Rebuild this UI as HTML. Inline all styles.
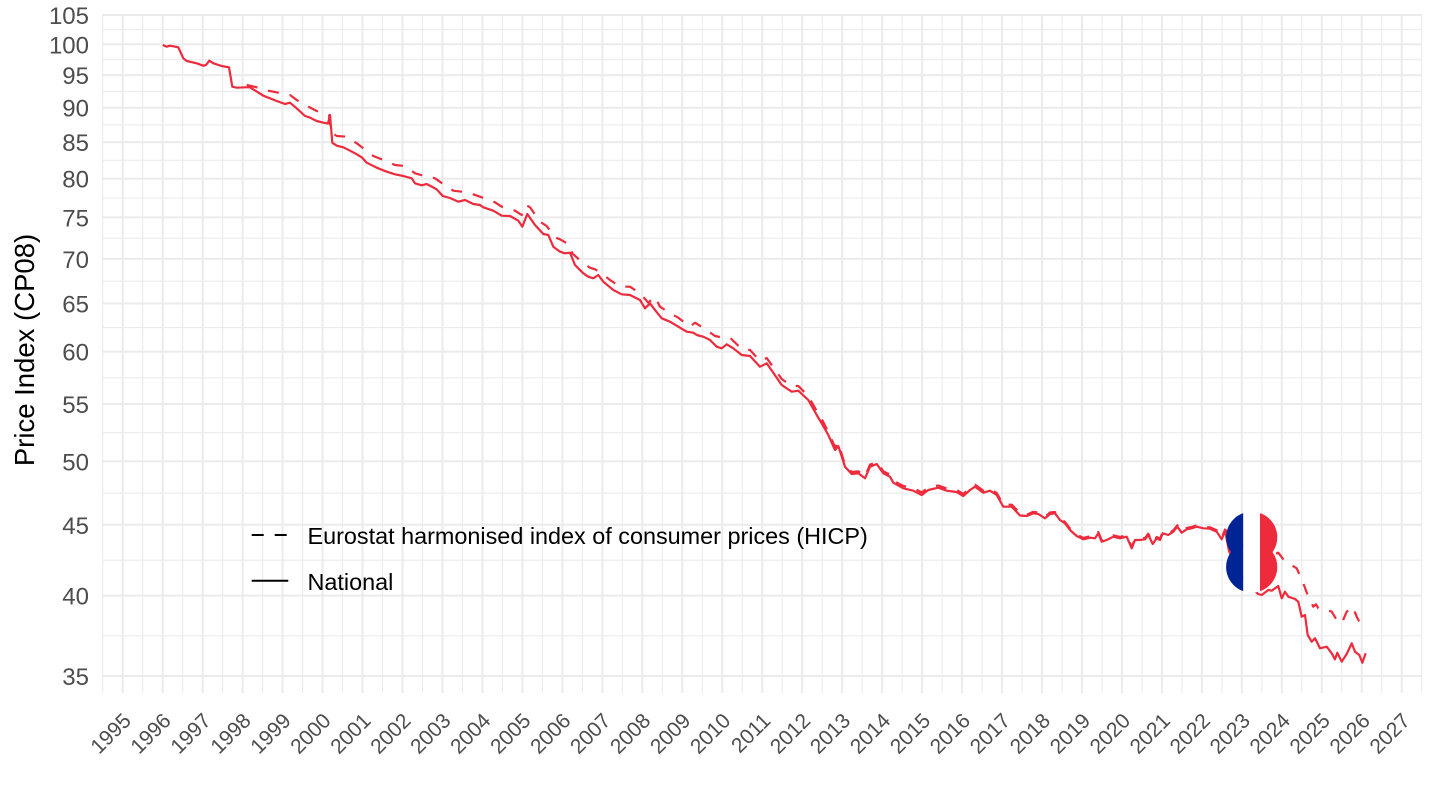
<!DOCTYPE html>
<html>
<head>
<meta charset="utf-8">
<style>
  html,body{margin:0;padding:0;background:#ffffff;}
  svg{display:block;}
  .yl{font-family:"Liberation Sans",Arial,sans-serif;font-size:24px;fill:#4D4D4D;text-anchor:end;}
  .xl{font-family:"Liberation Sans",Arial,sans-serif;font-size:21px;fill:#4D4D4D;text-anchor:end;}
  .lg{font-family:"Liberation Sans",Arial,sans-serif;font-size:23.4px;fill:#000000;}
  .ti{font-family:"Liberation Sans",Arial,sans-serif;font-size:27.5px;fill:#000000;text-anchor:middle;}
</style>
</head>
<body>
<svg width="1440" height="810" viewBox="0 0 1440 810" xmlns="http://www.w3.org/2000/svg">
<rect x="0" y="0" width="1440" height="810" fill="#ffffff"/>

<!-- minor horizontal grid -->
<g stroke="#EBEBEB" stroke-width="1.1">
<line x1="102.7" x2="1421.7" y1="29.62" y2="29.62"/>
<line x1="102.7" x2="1421.7" y1="59.73" y2="59.73"/>
<line x1="102.7" x2="1421.7" y1="91.43" y2="91.43"/>
<line x1="102.7" x2="1421.7" y1="124.89" y2="124.89"/>
<line x1="102.7" x2="1421.7" y1="160.33" y2="160.33"/>
<line x1="102.7" x2="1421.7" y1="197.99" y2="197.99"/>
<line x1="102.7" x2="1421.7" y1="238.16" y2="238.16"/>
<line x1="102.7" x2="1421.7" y1="281.2" y2="281.2"/>
<line x1="102.7" x2="1421.7" y1="327.59" y2="327.59"/>
<line x1="102.7" x2="1421.7" y1="377.85" y2="377.85"/>
<line x1="102.7" x2="1421.7" y1="432.7" y2="432.7"/>
<line x1="102.7" x2="1421.7" y1="493.07" y2="493.07"/>
<line x1="102.7" x2="1421.7" y1="560.2" y2="560.2"/>
<line x1="102.7" x2="1421.7" y1="635.8" y2="635.8"/>
</g>
<!-- minor vertical grid -->
<g stroke="#EBEBEB" stroke-width="1.1">
<line y1="14" y2="693" x1="102.7" x2="102.7"/>
<line y1="14" y2="693" x1="142.7" x2="142.7"/>
<line y1="14" y2="693" x1="182.65" x2="182.65"/>
<line y1="14" y2="693" x1="222.62" x2="222.62"/>
<line y1="14" y2="693" x1="262.6" x2="262.6"/>
<line y1="14" y2="693" x1="302.57" x2="302.57"/>
<line y1="14" y2="693" x1="342.54" x2="342.54"/>
<line y1="14" y2="693" x1="382.5" x2="382.5"/>
<line y1="14" y2="693" x1="422.48" x2="422.48"/>
<line y1="14" y2="693" x1="462.45" x2="462.45"/>
<line y1="14" y2="693" x1="502.42" x2="502.42"/>
<line y1="14" y2="693" x1="542.4" x2="542.4"/>
<line y1="14" y2="693" x1="582.36" x2="582.36"/>
<line y1="14" y2="693" x1="622.33" x2="622.33"/>
<line y1="14" y2="693" x1="662.3" x2="662.3"/>
<line y1="14" y2="693" x1="702.27" x2="702.27"/>
<line y1="14" y2="693" x1="742.24" x2="742.24"/>
<line y1="14" y2="693" x1="782.2" x2="782.2"/>
<line y1="14" y2="693" x1="822.18" x2="822.18"/>
<line y1="14" y2="693" x1="862.15" x2="862.15"/>
<line y1="14" y2="693" x1="902.12" x2="902.12"/>
<line y1="14" y2="693" x1="942.09" x2="942.09"/>
<line y1="14" y2="693" x1="982.06" x2="982.06"/>
<line y1="14" y2="693" x1="1022.03" x2="1022.03"/>
<line y1="14" y2="693" x1="1062" x2="1062"/>
<line y1="14" y2="693" x1="1101.97" x2="1101.97"/>
<line y1="14" y2="693" x1="1141.94" x2="1141.94"/>
<line y1="14" y2="693" x1="1181.9" x2="1181.9"/>
<line y1="14" y2="693" x1="1221.88" x2="1221.88"/>
<line y1="14" y2="693" x1="1261.85" x2="1261.85"/>
<line y1="14" y2="693" x1="1301.82" x2="1301.82"/>
<line y1="14" y2="693" x1="1341.79" x2="1341.79"/>
<line y1="14" y2="693" x1="1381.76" x2="1381.76"/>
<line y1="14" y2="693" x1="1421.7" x2="1421.7"/>
</g>
<!-- major horizontal grid -->
<g stroke="#EBEBEB" stroke-width="2">
<line x1="102.7" x2="1421.7" y1="14.94" y2="14.94"/>
<line x1="102.7" x2="1421.7" y1="44.3" y2="44.3"/>
<line x1="102.7" x2="1421.7" y1="75.16" y2="75.16"/>
<line x1="102.7" x2="1421.7" y1="107.69" y2="107.69"/>
<line x1="102.7" x2="1421.7" y1="142.09" y2="142.09"/>
<line x1="102.7" x2="1421.7" y1="178.57" y2="178.57"/>
<line x1="102.7" x2="1421.7" y1="217.4" y2="217.4"/>
<line x1="102.7" x2="1421.7" y1="258.91" y2="258.91"/>
<line x1="102.7" x2="1421.7" y1="303.5" y2="303.5"/>
<line x1="102.7" x2="1421.7" y1="351.67" y2="351.67"/>
<line x1="102.7" x2="1421.7" y1="404.02" y2="404.02"/>
<line x1="102.7" x2="1421.7" y1="461.37" y2="461.37"/>
<line x1="102.7" x2="1421.7" y1="524.76" y2="524.76"/>
<line x1="102.7" x2="1421.7" y1="595.63" y2="595.63"/>
<line x1="102.7" x2="1421.7" y1="675.98" y2="675.98"/>
</g>
<!-- major vertical grid -->
<g stroke="#EBEBEB" stroke-width="2">
<line y1="14" y2="693" x1="122.7" x2="122.7"/>
<line y1="14" y2="693" x1="162.67" x2="162.67"/>
<line y1="14" y2="693" x1="202.64" x2="202.64"/>
<line y1="14" y2="693" x1="242.61" x2="242.61"/>
<line y1="14" y2="693" x1="282.58" x2="282.58"/>
<line y1="14" y2="693" x1="322.55" x2="322.55"/>
<line y1="14" y2="693" x1="362.52" x2="362.52"/>
<line y1="14" y2="693" x1="402.49" x2="402.49"/>
<line y1="14" y2="693" x1="442.46" x2="442.46"/>
<line y1="14" y2="693" x1="482.43" x2="482.43"/>
<line y1="14" y2="693" x1="522.4" x2="522.4"/>
<line y1="14" y2="693" x1="562.37" x2="562.37"/>
<line y1="14" y2="693" x1="602.34" x2="602.34"/>
<line y1="14" y2="693" x1="642.31" x2="642.31"/>
<line y1="14" y2="693" x1="682.28" x2="682.28"/>
<line y1="14" y2="693" x1="722.25" x2="722.25"/>
<line y1="14" y2="693" x1="762.22" x2="762.22"/>
<line y1="14" y2="693" x1="802.19" x2="802.19"/>
<line y1="14" y2="693" x1="842.16" x2="842.16"/>
<line y1="14" y2="693" x1="882.13" x2="882.13"/>
<line y1="14" y2="693" x1="922.1" x2="922.1"/>
<line y1="14" y2="693" x1="962.07" x2="962.07"/>
<line y1="14" y2="693" x1="1002.04" x2="1002.04"/>
<line y1="14" y2="693" x1="1042.01" x2="1042.01"/>
<line y1="14" y2="693" x1="1081.98" x2="1081.98"/>
<line y1="14" y2="693" x1="1121.95" x2="1121.95"/>
<line y1="14" y2="693" x1="1161.92" x2="1161.92"/>
<line y1="14" y2="693" x1="1201.89" x2="1201.89"/>
<line y1="14" y2="693" x1="1241.86" x2="1241.86"/>
<line y1="14" y2="693" x1="1281.83" x2="1281.83"/>
<line y1="14" y2="693" x1="1321.8" x2="1321.8"/>
<line y1="14" y2="693" x1="1361.77" x2="1361.77"/>
<line y1="14" y2="693" x1="1401.74" x2="1401.74"/>
</g>

<!-- HICP dashed series -->
<polyline fill="none" stroke="#EE2B3C" stroke-width="2.2" stroke-dasharray="11 11" stroke-linejoin="round"
points="246.7,85 256.7,87.3 268.3,90.7 278.3,92.7 290,95 296.7,100 308.3,106.7 316.7,111 323,113 329,115 331,132 336.7,136 346.7,136.7 356.7,143.3 363.3,148.3 373.3,156 383.3,160 395,165 405,166 415,173.3 423.3,175.7 435,178.3 441.7,183 453.3,190.7 461.7,191.7 473.3,194.3 480,196.7 495,202.3 501.7,206.7 515,210.7 521.7,215 526,205 530,207.3 540,221.7 546.7,226 555,237.3 560,239.3 570,245 572.3,253.3 583.3,263.3 590,267.7 595,269.3 601.7,273.3 610,280 620,286.7 630,286.7 640,293.3 648.3,302.7 655,296.7 660,306.7 670,313.3 678.3,317.7 690,326.7 695,322.7 706.7,330 715,336 723.3,337.7 730,337.7 741.7,349 750,350 760,361 766.7,358 781.7,379 791.7,386 798.3,386 808.3,396 816.7,411 821.7,419 828.3,432 835,447 838.3,443 845,464.7 851.7,472 858.3,471.3 865,476.3 870,464.7 876.7,462 883.3,471.3 890,474.7 893.3,480.7 903.3,486 913.3,488 921.7,492.5 928.3,487.5 938.3,485.5 946.7,488.5 956.7,490 963.3,494 970,488 975,484.7 983.3,490.7 990,488.7 996.7,493 1003.3,504.7 1011.7,504.7 1020,513 1026.7,514.7 1033.3,511.8 1038.3,512.5 1045,517 1050,512.5 1055,512 1060,518.5 1065,522 1070,528.5 1076.7,534.5 1083.3,538 1090,536.3 1095,537 1098.3,532 1101.7,540.3 1106.7,538.7 1113.3,535.3 1120,537 1126.7,535.3 1131.7,547 1135,538.7 1140,538.7 1145,538 1148.3,533.7 1152.7,542.7 1156.7,537 1160,538.7 1162.7,532 1168.3,533.7 1173.3,530.3 1177.3,525.3 1181.7,531.3 1186.7,528 1191.7,527 1196.7,525.3 1203.3,527 1210,527.3 1216.7,530.3 1221.7,538 1225,529.5 1240,545 1260,552 1271.7,555 1278.3,552.7 1283.3,559.3 1288.3,563.3 1296.7,568.3 1303.3,583.3 1308.3,596.7 1313.3,606.7 1316,604.3 1318.3,608.3 1326.7,610 1331.7,611.7 1336.7,620 1341.7,623.3 1346.7,611.7 1352.7,606.7 1356.7,616.7 1362.7,628.3"/>

<!-- National solid series -->
<polyline fill="none" stroke="#EE2B3C" stroke-width="2.2" stroke-linejoin="round"
points="162.7,45 166.7,46.7 170,45.7 178.3,47.3 183.3,58.3 186.7,61 196.7,63.3 203.3,65.7 206,65 209.3,60.7 213.3,63.3 221.7,66 229,67.3 232.3,86.7 236.7,87.7 245,87.3 250,87.3 263.3,95.7 276.7,101 285,104 290,102.7 296.7,108.3 305,116 309.3,117.3 316.7,121 323.3,122.7 328,123.5 330,115 332.3,142.7 336.7,145.7 343.3,147.3 350,150.7 355,153.3 361.7,157.3 366.7,162.7 376.7,167.7 386.7,171.7 395,174.3 403.3,176 411.7,178.3 415,183.3 421.7,185.3 426.7,184 436.7,189.3 442.7,196 450,198 458.3,201.7 465,200 473.3,204 480,205 483.3,207.3 493.3,210.7 501.7,215.7 510,216 518.3,220.7 522.3,226.7 527.3,214 535,225 543.3,234 548.3,235 553.3,246.7 560,251.7 565,253.3 570,252.7 575,265 583.3,273.3 588.3,276.7 593.3,278.3 598.3,275 603.3,281.7 613.3,290 621.7,294.3 630,295 640,300 645,308.3 650,303.3 655,310 661.7,318.3 670,321.7 680,327.7 686.7,331.7 693.3,332.7 696.7,335 703.3,336.7 710,340 716.7,346.7 721.7,348.3 726.7,344.3 733.3,348.3 741.7,355 750,356 760,366.7 766.7,363.3 781.7,385 791.7,391.7 798.3,390.7 808.3,400 816.7,415 821.7,423.3 828.3,435 835,450 838.3,446 845,466.7 851.7,474 858.3,473.3 865,478.3 870,466.7 876.7,464 883.3,473.3 890,476.7 893.3,482.7 903.3,488.3 913.3,490.7 921.7,495 928.3,490 938.3,487.7 946.7,490.7 956.7,492 963.3,496 970,490 975,486.7 983.3,492.7 990,490.7 996.7,495 1003.3,506.7 1011.7,506.7 1020,515.5 1026.7,516 1033.3,513.3 1038.3,514 1045,518.3 1050,514 1055,513.3 1060,520 1065,523.3 1070,530 1076.7,536 1083.3,539.3 1090,537.7 1095,538.3 1098.3,533.3 1101.7,541.7 1106.7,540 1113.3,536.7 1120,538.3 1126.7,536.7 1131.7,548.3 1135,540 1140,540 1145,539.3 1148.3,535 1152.7,544 1156.7,538.3 1160,540 1162.7,533.3 1168.3,535 1173.3,531.7 1177.3,526.7 1181.7,532.7 1186.7,529.3 1191.7,528.3 1196.7,526.7 1203.3,528.3 1210,528.7 1216.7,531.7 1221.7,539.3 1225,530.7 1229,551 1240,575 1258,594 1261.7,595 1268.3,590 1271.7,590.7 1278.3,586 1281.7,598.3 1285,591.7 1288.3,596.7 1295,599 1298.3,601.7 1301.7,616.7 1305,615 1307.7,635 1311.7,641.7 1315,638.3 1320,648.3 1326.7,646.7 1331.7,653.3 1335,659.3 1337.3,652.7 1341.7,661.7 1346.7,654 1351.7,643.3 1355,651.7 1359.3,655 1362.3,662.7 1365.7,653.3"/>

<!-- Flag -->
<defs>
<clipPath id="fc">
<circle cx="1251.7" cy="537.3" r="25.6"/>
<circle cx="1251.7" cy="567" r="25.6"/>
</clipPath>
</defs>
<g clip-path="url(#fc)">
<rect x="1225" y="510" width="18.3" height="85" fill="#002395"/>
<rect x="1243.3" y="510" width="16.7" height="85" fill="#ffffff"/>
<rect x="1260" y="510" width="19" height="85" fill="#EE2B3C"/>
</g>

<!-- Legend -->
<line x1="251.7" x2="286.7" y1="535" y2="535" stroke="#000" stroke-width="2" stroke-dasharray="12 11"/>
<text class="lg" x="307.5" y="544">Eurostat harmonised index of consumer prices (HICP)</text>
<line x1="251.7" x2="288.3" y1="580.7" y2="580.7" stroke="#000" stroke-width="2"/>
<text class="lg" x="307.5" y="590">National</text>

<!-- Y tick labels -->
<text class="yl" x="89" y="23.9">105</text>
<text class="yl" x="89" y="53.3">100</text>
<text class="yl" x="89" y="84.2">95</text>
<text class="yl" x="89" y="116.7">90</text>
<text class="yl" x="89" y="151.1">85</text>
<text class="yl" x="89" y="187.6">80</text>
<text class="yl" x="89" y="226.4">75</text>
<text class="yl" x="89" y="267.9">70</text>
<text class="yl" x="89" y="312.5">65</text>
<text class="yl" x="89" y="360.7">60</text>
<text class="yl" x="89" y="413">55</text>
<text class="yl" x="89" y="470.4">50</text>
<text class="yl" x="89" y="533.8">45</text>
<text class="yl" x="89" y="604.6">40</text>
<text class="yl" x="89" y="685">35</text>

<!-- Y axis title -->
<text class="ti" transform="translate(34,350) rotate(-90)">Price Index (CP08)</text>

<!-- X tick labels -->
<text class="xl" transform="translate(132.2,722) rotate(-45)">1995</text>
<text class="xl" transform="translate(172.17,722) rotate(-45)">1996</text>
<text class="xl" transform="translate(212.14,722) rotate(-45)">1997</text>
<text class="xl" transform="translate(252.11,722) rotate(-45)">1998</text>
<text class="xl" transform="translate(292.08,722) rotate(-45)">1999</text>
<text class="xl" transform="translate(332.05,722) rotate(-45)">2000</text>
<text class="xl" transform="translate(372.02,722) rotate(-45)">2001</text>
<text class="xl" transform="translate(411.99,722) rotate(-45)">2002</text>
<text class="xl" transform="translate(451.96,722) rotate(-45)">2003</text>
<text class="xl" transform="translate(491.93,722) rotate(-45)">2004</text>
<text class="xl" transform="translate(531.9,722) rotate(-45)">2005</text>
<text class="xl" transform="translate(571.87,722) rotate(-45)">2006</text>
<text class="xl" transform="translate(611.84,722) rotate(-45)">2007</text>
<text class="xl" transform="translate(651.81,722) rotate(-45)">2008</text>
<text class="xl" transform="translate(691.78,722) rotate(-45)">2009</text>
<text class="xl" transform="translate(731.75,722) rotate(-45)">2010</text>
<text class="xl" transform="translate(771.72,722) rotate(-45)">2011</text>
<text class="xl" transform="translate(811.69,722) rotate(-45)">2012</text>
<text class="xl" transform="translate(851.66,722) rotate(-45)">2013</text>
<text class="xl" transform="translate(891.63,722) rotate(-45)">2014</text>
<text class="xl" transform="translate(931.6,722) rotate(-45)">2015</text>
<text class="xl" transform="translate(971.57,722) rotate(-45)">2016</text>
<text class="xl" transform="translate(1011.54,722) rotate(-45)">2017</text>
<text class="xl" transform="translate(1051.51,722) rotate(-45)">2018</text>
<text class="xl" transform="translate(1091.48,722) rotate(-45)">2019</text>
<text class="xl" transform="translate(1131.45,722) rotate(-45)">2020</text>
<text class="xl" transform="translate(1171.42,722) rotate(-45)">2021</text>
<text class="xl" transform="translate(1211.39,722) rotate(-45)">2022</text>
<text class="xl" transform="translate(1251.36,722) rotate(-45)">2023</text>
<text class="xl" transform="translate(1291.33,722) rotate(-45)">2024</text>
<text class="xl" transform="translate(1331.3,722) rotate(-45)">2025</text>
<text class="xl" transform="translate(1371.27,722) rotate(-45)">2026</text>
<text class="xl" transform="translate(1411.24,722) rotate(-45)">2027</text>
</svg>
</body>
</html>
